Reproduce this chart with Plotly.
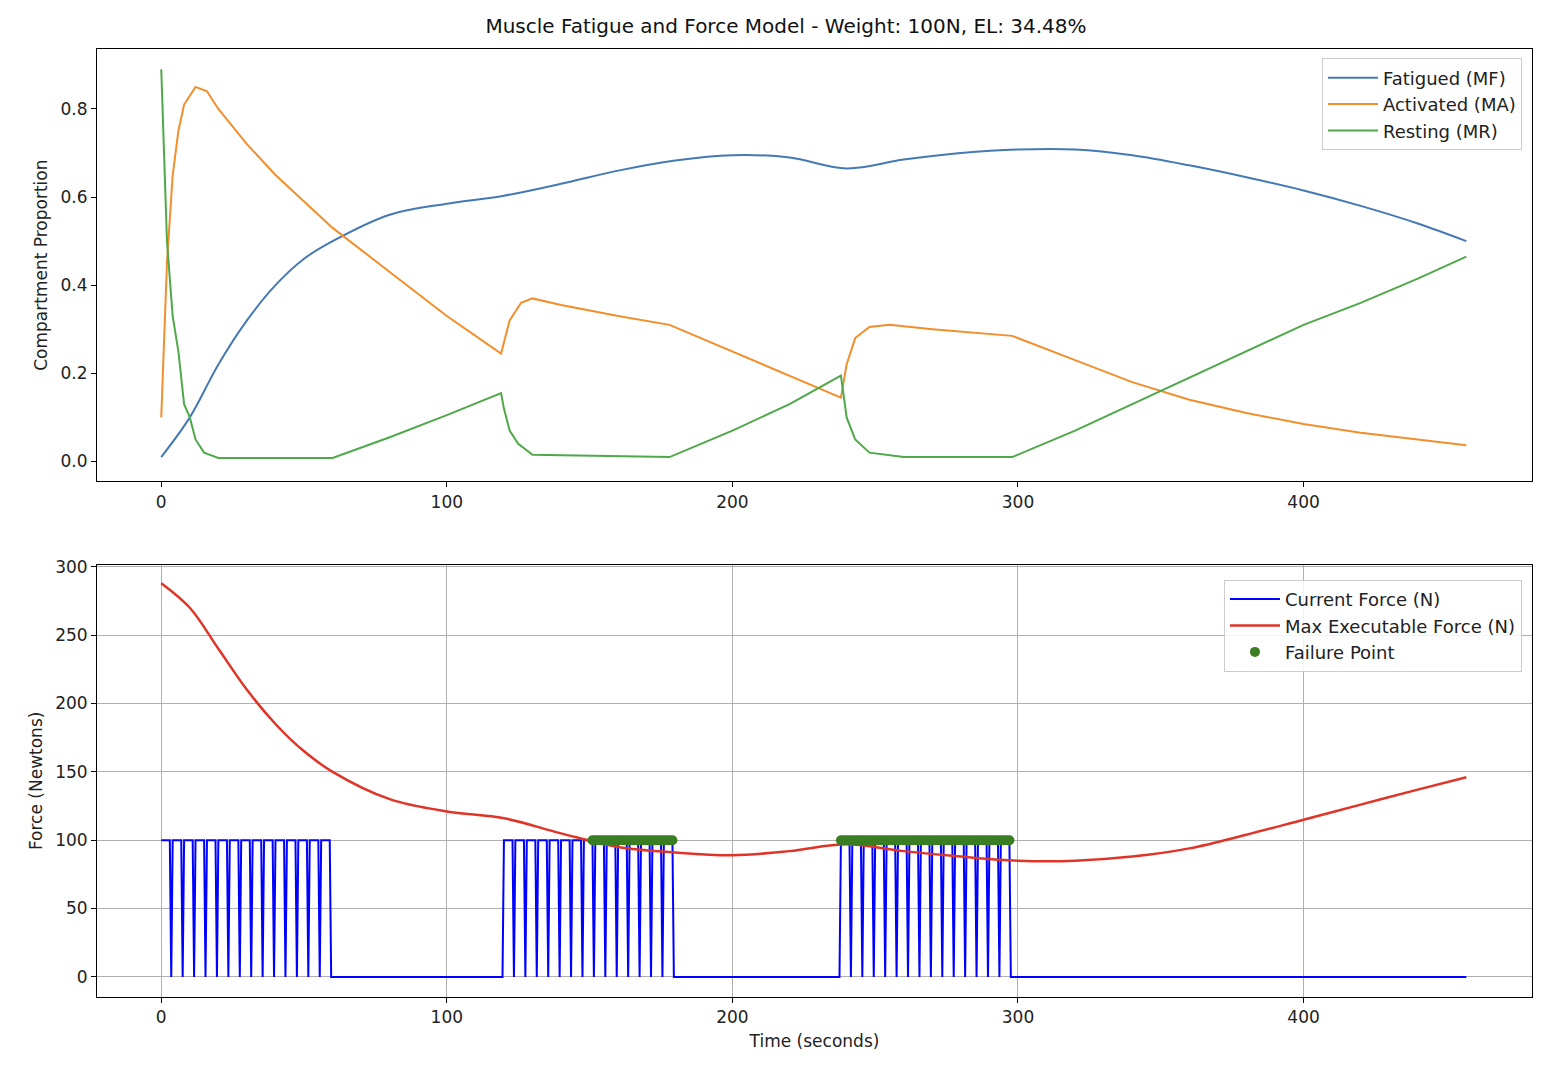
import numpy as np
import plotly.graph_objects as go
from plotly.subplots import make_subplots

mf_t = [0,10,20,30,40,50,60,80,100,120,140,160,180,200,220,240,260,280,300,320,340,360,380,400,420,440,457]
mf_v = [0.01,0.1,0.22,0.32,0.4,0.46,0.5,0.56,0.585,0.603,0.63,0.66,0.683,0.695,0.69,0.665,0.685,0.7,0.708,0.708,0.695,0.672,0.645,0.615,0.58,0.54,0.5]
ma_t = [0,2,4,6,8,12,16,20,30,40,50,60,80,100,119,120,122,126,130,140,160,178,200,220,238,240,243,248,255,270,290,298,320,340,360,380,400,420,440,457]
ma_v = [0.1,0.45,0.65,0.75,0.81,0.85,0.84,0.8,0.72,0.65,0.59,0.53,0.43,0.33,0.245,0.27,0.32,0.36,0.37,0.355,0.33,0.31,0.25,0.195,0.145,0.22,0.28,0.305,0.31,0.3,0.29,0.285,0.23,0.18,0.14,0.11,0.085,0.065,0.05,0.037]
mr_t = [0,2,4,6,8,10,12,15,20,60,80,100,119,120,122,125,130,178,200,220,238,240,243,248,260,298,320,340,360,380,400,420,440,457]
mr_v = [0.89,0.5,0.33,0.25,0.13,0.1,0.05,0.02,0.008,0.008,0.055,0.105,0.155,0.12,0.07,0.04,0.015,0.01,0.07,0.13,0.195,0.1,0.05,0.02,0.01,0.01,0.07,0.13,0.19,0.25,0.31,0.36,0.415,0.465]
mx_t = [0,10,20,30,40,50,60,80,100,120,140,160,180,200,220,240,260,280,300,320,340,360,380,400,420,440,457]
mx_v = [288,270,240,210,185,165,150,130,121,116,105,95,91,89,92,97,92,88,85,85,88,94,104,115,126,137,146]

weight = 100
block_starts = [0,120,238]
pulse_starts = [0,4,8,12,16,20,24,28,32,36,40,44,48,52,56]
pulse_ends = [3,7,11,15,19,23,27,31,35,39,43,47,51,55,59]
t_end = 457

ft, fv = [], []
fail_t = []
for b in block_starts:
    if b > 0:
        ft.append(b - 0.5); fv.append(0)
    for s, e in zip(pulse_starts, pulse_ends):
        ft += [b+s, b+e, b+e+0.5]
        fv += [weight, weight, 0]
        for tt in np.arange(b+s, b+e+0.01, 1.0):
            if np.interp(tt, mx_t, mx_v) < weight:
                fail_t.append(tt)
ft.append(t_end); fv.append(0)

fig = make_subplots(rows=2, cols=1, vertical_spacing=0.088)
fig.add_trace(go.Scatter(x=mf_t, y=mf_v, name="Fatigued (MF)", line=dict(color="#4479b4", width=2), line_shape="spline", legend="legend"), 1, 1)
fig.add_trace(go.Scatter(x=ma_t, y=ma_v, name="Activated (MA)", line=dict(color="#f28e2b", width=2), legend="legend"), 1, 1)
fig.add_trace(go.Scatter(x=mr_t, y=mr_v, name="Resting (MR)", line=dict(color="#4fa84a", width=2), legend="legend"), 1, 1)
fig.add_trace(go.Scatter(x=ft, y=fv, name="Current Force (N)", line=dict(color="#0000ff", width=2), legend="legend2"), 2, 1)
fig.add_trace(go.Scatter(x=mx_t, y=mx_v, name="Max Executable Force (N)", line=dict(color="#e03428", width=2.5), line_shape="spline", legend="legend2"), 2, 1)
fig.add_trace(go.Scatter(x=fail_t, y=[weight]*len(fail_t), mode="markers", name="Failure Point", marker=dict(color="#3a7d22", size=10), legend="legend2"), 2, 1)

ax = dict(showline=True, mirror=True, linecolor="black", ticks="outside", tickcolor="black", zeroline=False,
          tickfont=dict(size=17, color="#222"))
fig.update_xaxes(**ax, range=[-22.5, 480], tickvals=[0,100,200,300,400])
fig.update_xaxes(showgrid=False, row=1, col=1)
fig.update_xaxes(showgrid=True, gridcolor="#b0b0b0", row=2, col=1, title=dict(text="Time (seconds)", font=dict(size=17, color="#222"), standoff=8))
fig.update_yaxes(**ax)
fig.update_yaxes(row=1, col=1, showgrid=False, range=[-0.045, 0.936], tickvals=[0,0.2,0.4,0.6,0.8], tickformat=".1f",
                 title=dict(text="Compartment Proportion", font=dict(size=17, color="#222"), standoff=8))
fig.update_yaxes(row=2, col=1, showgrid=True, gridcolor="#b0b0b0", range=[-14.7, 301.5], tickvals=[0,50,100,150,200,250,300],
                 title=dict(text="Force (Newtons)", font=dict(size=17, color="#222"), standoff=8))
leg = dict(bgcolor="rgba(255,255,255,0.85)", bordercolor="#ccc", borderwidth=1, font=dict(size=18, color="#222"),
           xanchor="right", yanchor="top", x=0.993, tracegroupgap=0, itemwidth=50)
fig.update_layout(
    width=1556, height=1086, margin=dict(l=89, r=32, t=41, b=97),
    plot_bgcolor="white", paper_bgcolor="white",
    font=dict(family="DejaVu Sans"),
    title=dict(text="Muscle Fatigue and Force Model - Weight: 100N, EL: 34.48%", x=0.5, xanchor="center", y=0.99, yanchor="top",
               font=dict(size=20, color="#111")),
    legend=dict(**leg, y=0.99),
    legend2=dict(**leg, y=0.44),
)
fig.write_html("out.html")
